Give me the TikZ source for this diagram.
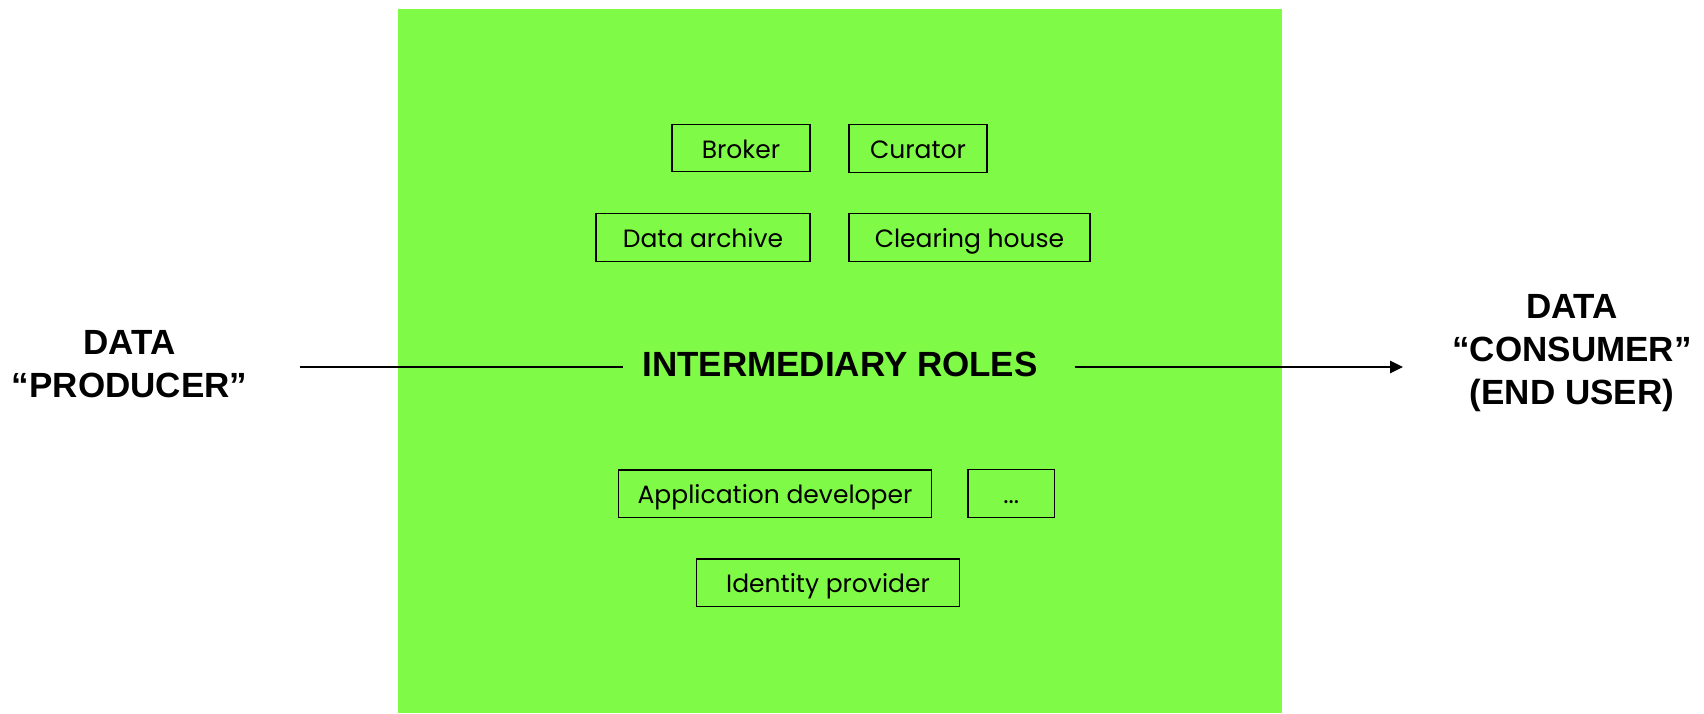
\documentclass[tikz,border=0pt]{standalone}
\usepackage{fontspec}
\setmainfont{Liberation Sans}
\newfontfamily\boxfont{Poppins}
\usetikzlibrary{arrows.meta}
\definecolor{panelgreen}{RGB}{127,250,70}
\tikzset{
  rolebox/.style={draw=black, line width=1.4pt, inner sep=0pt, minimum height=47.5pt,
    font={\boxfont\fontsize{25}{30}\selectfont}, text height=20pt, text depth=0pt},
  bigtitle/.style={inner sep=0pt, align=center, font={\bfseries\fontsize{35}{43}\selectfont}},
  flow/.style={line width=1.5pt},
}
\begin{document}
\begin{tikzpicture}[x=1pt,y=-1pt]
\useasboundingbox (0,0) rectangle (1704,713);
\fill[panelgreen] (398,9) rectangle (1282,713);
% role boxes
\node[rolebox, minimum width=138pt] (broker) at (741,148) {Broker};
\node[rolebox, minimum width=138pt] (curator) at (918,148.5) {Curator};
\node[rolebox, minimum width=214pt] (archive) at (703,237.5) {Data archive};
\node[rolebox, minimum width=241pt] (clearing) at (969.5,237.5) {Clearing house};
\node[rolebox, minimum width=312.5pt] (appdev) at (775,493.7) {Application developer};
\node[rolebox, minimum width=86.7pt] (more) at (1011.3,493.5) {...};
\node[rolebox, minimum width=262.6pt] (idp) at (828,582.7) {Identity provider};
% titles
\node[bigtitle, minimum width=394pt, text height=25pt, text depth=0pt] (roles) at (840,364) {INTERMEDIARY ROLES};
\node[bigtitle, anchor=north] (producer) at (129.6,330) {DATA\\“PRODUCER”};
\node[bigtitle, anchor=north] (consumer) at (1572,294) {DATA\\“CONSUMER”\\(END USER)};
% connectors
\coordinate (pstart) at (300,367);
\coordinate (ptip) at (1403,367);
\draw[flow] (pstart) -- ([xshift=-19pt]roles.west |- pstart);
\draw[flow,-{Triangle[length=13pt,width=12.5pt]}] ([xshift=37pt]roles.east |- ptip) -- (ptip);
\end{tikzpicture}
\end{document}
